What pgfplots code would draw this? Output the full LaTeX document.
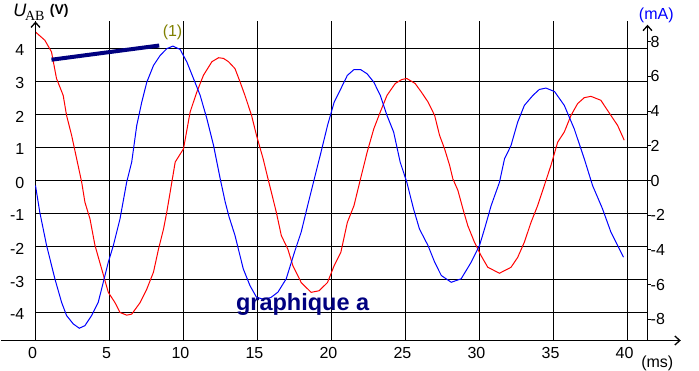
\documentclass[border=0pt]{standalone}
\usepackage{fontspec}
\setmainfont{Liberation Sans}
\newfontfamily\serifAB{Liberation Serif}
\usepackage{pgfplots}
\pgfplotsset{compat=1.18}
\usetikzlibrary{arrows.meta}
\definecolor{navyc}{RGB}{0,0,128}
\definecolor{olivec}{RGB}{128,128,0}
\pgfplotsset{/pgf/number format/assume math mode=true}
\begin{document}
\begin{tikzpicture}
\useasboundingbox (-35.5pt,-30.5pt) rectangle (663.5pt,340.5pt);
\begin{axis}[
  at={(0pt,0pt)}, anchor=south west,
  scale only axis, width=612pt, height=319pt,
  xmin=0, xmax=41.3514, ymin=-4.84848, ymax=4.81818,
  axis line style={draw=none},
  xtick={0,5,...,40}, ytick={-4,-3,...,4},
  grid=major, major grid style={black, line width=1.3pt},
  major tick length=0pt,
  tick label style={font=\fontsize{16}{16}\selectfont, inner sep=0pt},
  xticklabel style={anchor=north, yshift=-7pt, xshift=-3pt},
  yticklabel style={anchor=east, xshift=-11pt, yshift=-2pt},
  clip=false,
]
\addplot[red, line width=1pt] coordinates {
(0,4.5) (0.63,4.25) (1.08,3.9) (1.42,3.09) (1.87,2.58) (2.1,1.97) (2.44,1.37)
(2.78,0.66) (3.12,-0.05) (3.34,-0.66) (3.68,-1.16) (4.02,-1.97) (4.47,-2.68)
(4.92,-3.39) (5.37,-3.70) (5.71,-4.0) (6.16,-4.08) (6.5,-4.05) (7.07,-3.70)
(7.52,-3.29) (7.97,-2.78) (8.31,-2.08) (8.65,-1.47) (8.87,-0.96) (9.1,-0.35)
(9.44,0.56) (10.0,0.96) (10.45,2.08) (10.9,2.68) (11.35,3.19) (11.92,3.6)
(12.37,3.72) (12.7,3.70) (13.04,3.6) (13.48,3.39) (13.82,2.99) (14.15,2.58)
(14.6,1.97) (14.93,1.37) (15.38,0.66) (15.71,0.05) (16.05,-0.56) (16.27,-0.96)
(16.61,-1.67) (17.05,-2.08) (17.39,-2.58) (17.95,-3.09) (18.62,-3.39)
(19.17,-3.34) (19.73,-3.09) (20.18,-2.58) (20.63,-2.18) (21.07,-1.27)
(21.52,-0.76) (21.96,0.05) (22.41,0.86) (22.86,1.57) (23.3,2.08) (23.75,2.58)
(24.31,2.94) (24.75,3.06) (25.09,3.09) (25.65,2.94) (26.07,2.68) (26.52,2.38)
(26.97,1.97) (27.3,1.37) (27.64,0.96) (27.98,0.46) (28.2,0.05) (28.54,-0.30)
(28.88,-0.86) (29.21,-1.37) (29.66,-1.87) (30.11,-2.28) (30.56,-2.63)
(31.35,-2.81) (32.13,-2.63) (32.58,-2.33) (33.03,-1.87) (33.48,-1.27)
(33.93,-0.76) (34.38,-0.15) (34.83,0.46) (35.28,1.16) (35.73,1.47)
(36.18,1.97) (36.63,2.33) (37.08,2.51) (37.53,2.55) (38.2,2.43) (38.88,1.97)
(39.33,1.67) (39.78,1.22)
};
\draw[line width=1.3pt, -{Straight Barb[length=5pt,width=9pt]}] (axis cs:-2.3,-4.84848) -- (axis cs:43.6,-4.84848);
\draw[line width=1.3pt, -{Straight Barb[length=5pt,width=9pt]}] (axis cs:0,-4.84848) -- (axis cs:0,4.81818);
\draw[line width=1.3pt, -{Straight Barb[length=5pt,width=9pt]}] (axis cs:41.3514,-4.84848) -- (axis cs:41.3514,4.72);
\draw[navyc, line width=4pt] (axis cs:1.08,3.66) -- (axis cs:8.36,4.09);
\node[olivec, font=\fontsize{16}{16}\selectfont] at (axis cs:9.26,4.49) {(1)};
\end{axis}
\begin{axis}[
  at={(0pt,0pt)}, anchor=south west,
  scale only axis, width=612pt, height=319pt,
  xmin=0, xmax=41.3514, ymin=-9.227, ymax=9.170,
  axis line style={draw=none},
  xtick=\empty, ytick={-8,-6,...,8},
  ytick pos=right, yticklabel pos=right,
  tick align=outside, major tick length=3pt,
  tick style={black, line width=1.2pt},
  tick label style={font=\fontsize{16}{16}\selectfont, inner sep=0pt},
  yticklabel style={anchor=west, xshift=0pt},
  clip=false,
]
\addplot[blue, line width=1pt] coordinates {
(0,-0.29) (0.29,-1.83) (0.75,-3.75) (1.31,-5.67) (1.76,-7.02) (2.1,-7.79)
(2.55,-8.27) (2.96,-8.52) (3.34,-8.37) (3.79,-7.79) (4.24,-7.02) (4.58,-5.87)
(4.92,-4.71) (5.26,-3.75) (5.71,-2.21) (6.16,-0.10) (6.5,1.06) (6.84,3.17)
(7.18,4.52) (7.52,5.67) (7.97,6.63) (8.42,7.21) (8.87,7.6) (9.28,7.75)
(9.77,7.56) (10.23,6.83) (10.68,5.87) (11.13,4.9) (11.58,3.56) (12.03,2.02)
(12.48,0.1) (12.82,-1.25) (13.08,-2.1) (13.48,-3.17) (14.04,-5.1) (14.49,-6.06)
(14.93,-6.73) (15.4,-6.85) (15.9,-6.75) (16.38,-6.44) (16.94,-5.67) (17.5,-4.13)
(17.95,-2.98) (18.39,-1.44) (18.84,0.1) (19.29,1.63) (19.73,3.17) (20.18,4.52)
(20.63,5.29) (21.07,6.06) (21.52,6.4) (21.96,6.4) (22.41,6.15) (22.86,5.67)
(23.3,4.9) (23.75,3.75) (24.2,2.79) (24.64,1.06) (25.09,-0.1) (25.54,-1.63)
(25.94,-2.79) (26.52,-3.75) (26.97,-4.71) (27.42,-5.48) (28.09,-5.87)
(28.76,-5.67) (29.44,-4.71) (30.0,-3.75) (30.34,-2.79) (30.79,-1.44)
(31.35,-0.10) (31.69,1.25) (32.13,2.02) (32.58,3.37) (33.03,4.33) (33.6,4.9)
(34.04,5.25) (34.49,5.33) (35.07,5.13) (35.73,4.33) (36.4,2.98) (37.08,1.25)
(37.64,-0.29) (38.31,-1.63) (38.88,-2.98) (39.33,-3.75) (39.73,-4.42)
};
\node[navyc, font=\bfseries\fontsize{23.5}{24}\selectfont, anchor=base] at (axis cs:18.05,-7.48) {graphique a};
\end{axis}
\node[font=\itshape\fontsize{18}{18}\selectfont] at (-15.7pt,330pt) {U};
\node[font=\serifAB\fontsize{14}{14}\selectfont] at (-0.7pt,324.5pt) {AB};
\node[font=\bfseries\fontsize{14}{14}\selectfont] at (23.8pt,330pt) {(V)};
\node[blue, font=\fontsize{16}{16}\selectfont] at (620.8pt,325.5pt) {(mA)};
\node[font=\fontsize{16}{16}\selectfont] at (621.8pt,-22.5pt) {(ms)};
\end{tikzpicture}
\end{document}
